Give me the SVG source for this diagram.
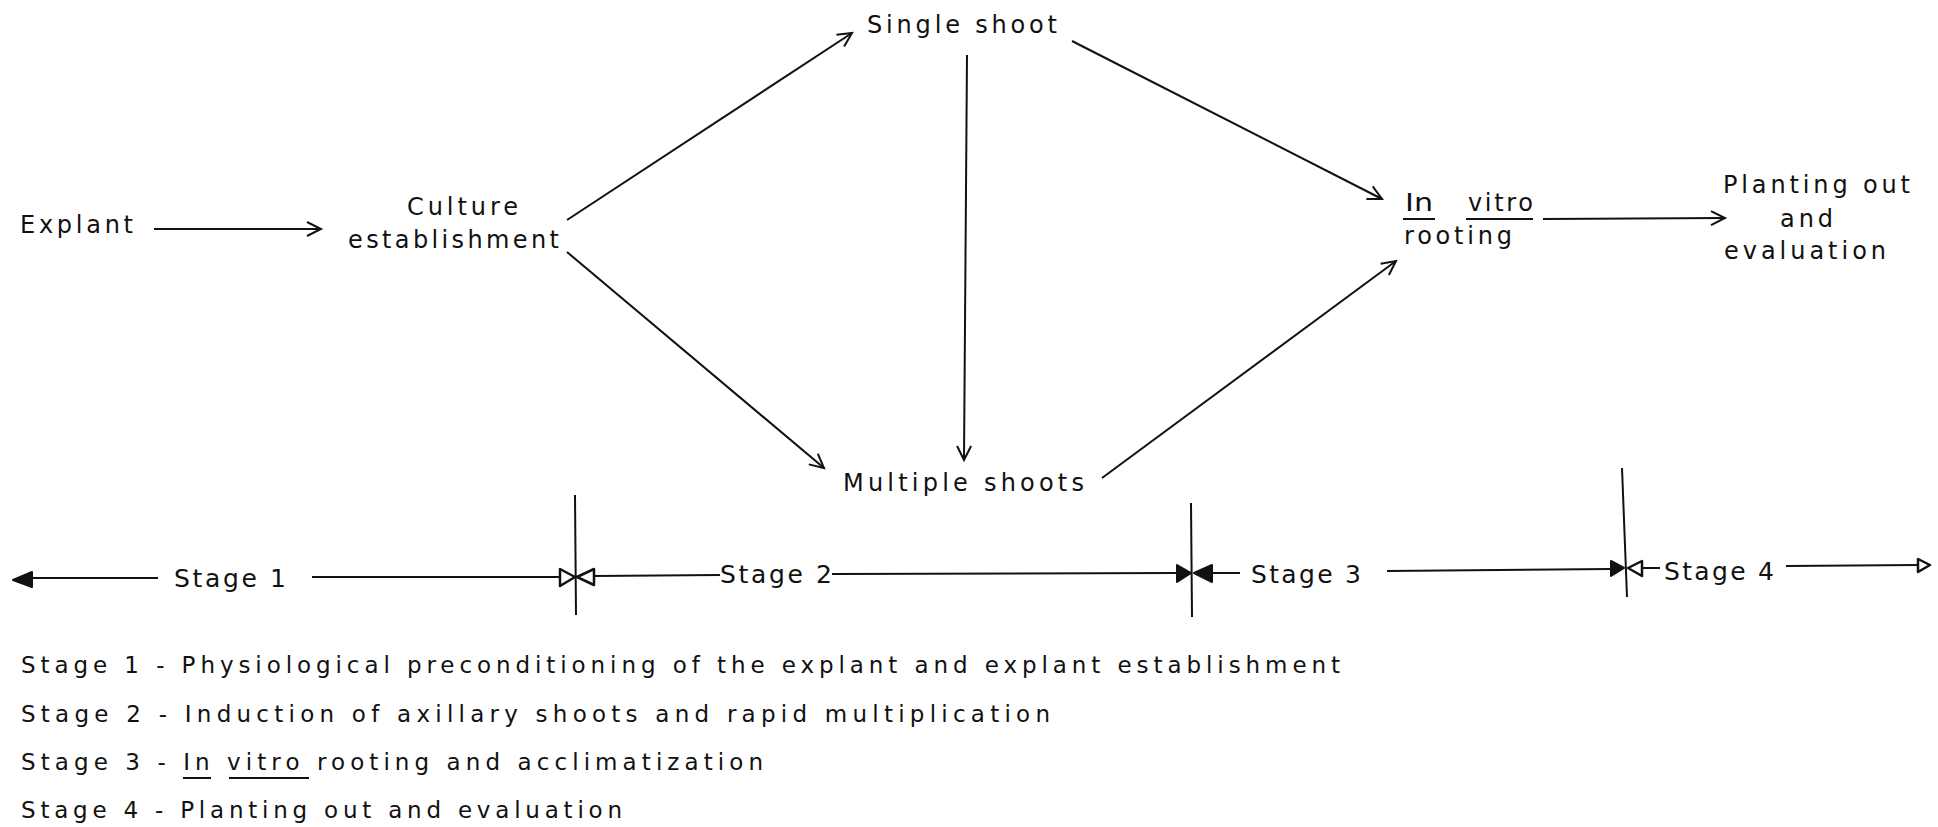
<svg xmlns="http://www.w3.org/2000/svg" width="1938" height="827" viewBox="0 0 1938 827">
<defs>
<style>
text{font-family:"DejaVu Sans","Liberation Sans",sans-serif;fill:#111;}
.n{font-size:24px;}
.s{font-size:25px;}
.d{font-size:23px;}
.ln{stroke:#111;stroke-width:2;fill:none;}
.ul{stroke:#111;stroke-width:2;}
.hol{fill:#fff;stroke:#111;stroke-width:2.5;stroke-linejoin:round;}
.fil{fill:#111;stroke:#111;stroke-width:2;stroke-linejoin:round;}
</style>
<marker id="v" markerUnits="userSpaceOnUse" markerWidth="20" markerHeight="20" viewBox="-16 -10 20 20" refX="0" refY="0" orient="auto">
<path d="M-14,-7 L0,0 L-14,7" fill="none" stroke="#111" stroke-width="2"/>
</marker>
</defs>
<rect width="1938" height="827" fill="#fff"/>

<g id="connectors">
<line class="ln" x1="154" y1="229" x2="321" y2="229" marker-end="url(#v)"/>
<line class="ln" x1="567" y1="220" x2="852" y2="33" marker-end="url(#v)"/>
<line class="ln" x1="567" y1="252" x2="824" y2="468" marker-end="url(#v)"/>
<line class="ln" x1="967" y1="55" x2="964" y2="460" marker-end="url(#v)"/>
<line class="ln" x1="1072" y1="41" x2="1382" y2="199" marker-end="url(#v)"/>
<line class="ln" x1="1102" y1="478" x2="1396" y2="261" marker-end="url(#v)"/>
<line class="ln" x1="1543" y1="219" x2="1725" y2="218" marker-end="url(#v)"/>
</g>

<g id="node-explant"><text class="n" x="20" y="233" textLength="113" lengthAdjust="spacing">Explant</text></g>
<g id="node-culture">
<text class="n" x="407" y="215" textLength="111" lengthAdjust="spacing">Culture</text>
<text class="n" x="348" y="248" textLength="211" lengthAdjust="spacing">establishment</text>
</g>
<g id="node-single"><text class="n" x="867" y="33" textLength="190" lengthAdjust="spacing">Single shoot</text></g>
<g id="node-multiple"><text class="n" x="843" y="491" textLength="241" lengthAdjust="spacing">Multiple shoots</text></g>
<g id="node-rooting">
<text class="n" x="1405" y="211" textLength="28" lengthAdjust="spacingAndGlyphs">In</text>
<text class="n" x="1468" y="211" textLength="65" lengthAdjust="spacing">vitro</text>
<line class="ul" x1="1403" y1="219" x2="1435" y2="219"/>
<line class="ul" x1="1466" y1="219" x2="1533" y2="219"/>
<text class="n" x="1404" y="244" textLength="108" lengthAdjust="spacing">rooting</text>
</g>
<g id="node-planting">
<text class="n" x="1723" y="193" textLength="187" lengthAdjust="spacing">Planting out</text>
<text class="n" x="1780" y="227" textLength="53" lengthAdjust="spacing">and</text>
<text class="n" x="1724" y="259" textLength="162" lengthAdjust="spacing">evaluation</text>
</g>

<g id="stage-bar">
<line class="ln" x1="30" y1="578" x2="158" y2="578"/>
<polygon class="fil" points="13,580 32,572 32,587"/>
<text class="s" x="174" y="587" textLength="112" lengthAdjust="spacing">Stage 1</text>
<line class="ln" x1="312" y1="577" x2="561" y2="577"/>
<polygon class="hol" points="575,577 560,569 560,586"/>
<line class="ln" x1="575" y1="495" x2="576" y2="615"/>
<polygon class="hol" points="577,577 594,569 594,585"/>
<line class="ln" x1="594" y1="576" x2="720" y2="575"/>
<text class="s" x="720" y="583" textLength="112" lengthAdjust="spacing">Stage 2</text>
<line class="ln" x1="832" y1="574" x2="1177" y2="573"/>
<polygon class="fil" points="1191,573 1177,565 1177,582"/>
<line class="ln" x1="1191" y1="503" x2="1192" y2="617"/>
<polygon class="fil" points="1194,573 1212,565 1212,582"/>
<line class="ln" x1="1212" y1="573" x2="1240" y2="573"/>
<text class="s" x="1251" y="583" textLength="110" lengthAdjust="spacing">Stage 3</text>
<line class="ln" x1="1387" y1="571" x2="1611" y2="569"/>
<polygon class="fil" points="1624,568 1611,561 1611,576"/>
<line class="ln" x1="1622" y1="468" x2="1627" y2="597"/>
<polygon class="hol" points="1628,568 1642,561 1642,576"/>
<line class="ln" x1="1642" y1="568" x2="1660" y2="568"/>
<text class="s" x="1664" y="580" textLength="110" lengthAdjust="spacing">Stage 4</text>
<line class="ln" x1="1786" y1="566" x2="1918" y2="565"/>
<polygon class="hol" points="1930,565 1918,559 1918,572"/>
</g>

<g id="legend">
<text class="d" x="21" y="673" textLength="1319" lengthAdjust="spacing">Stage 1 - Physiological preconditioning of the explant and explant establishment</text>
<text class="d" x="21" y="722" textLength="1029" lengthAdjust="spacing">Stage 2 - Induction of axillary shoots and rapid multiplication</text>
<text class="d" x="21" y="770" textLength="742" lengthAdjust="spacing">Stage 3 - In vitro rooting and acclimatization</text>
<line class="ul" x1="183" y1="778" x2="211" y2="778"/>
<line class="ul" x1="229" y1="778" x2="309" y2="778"/>
<text class="d" x="21" y="818" textLength="601" lengthAdjust="spacing">Stage 4 - Planting out and evaluation</text>
</g>
</svg>
